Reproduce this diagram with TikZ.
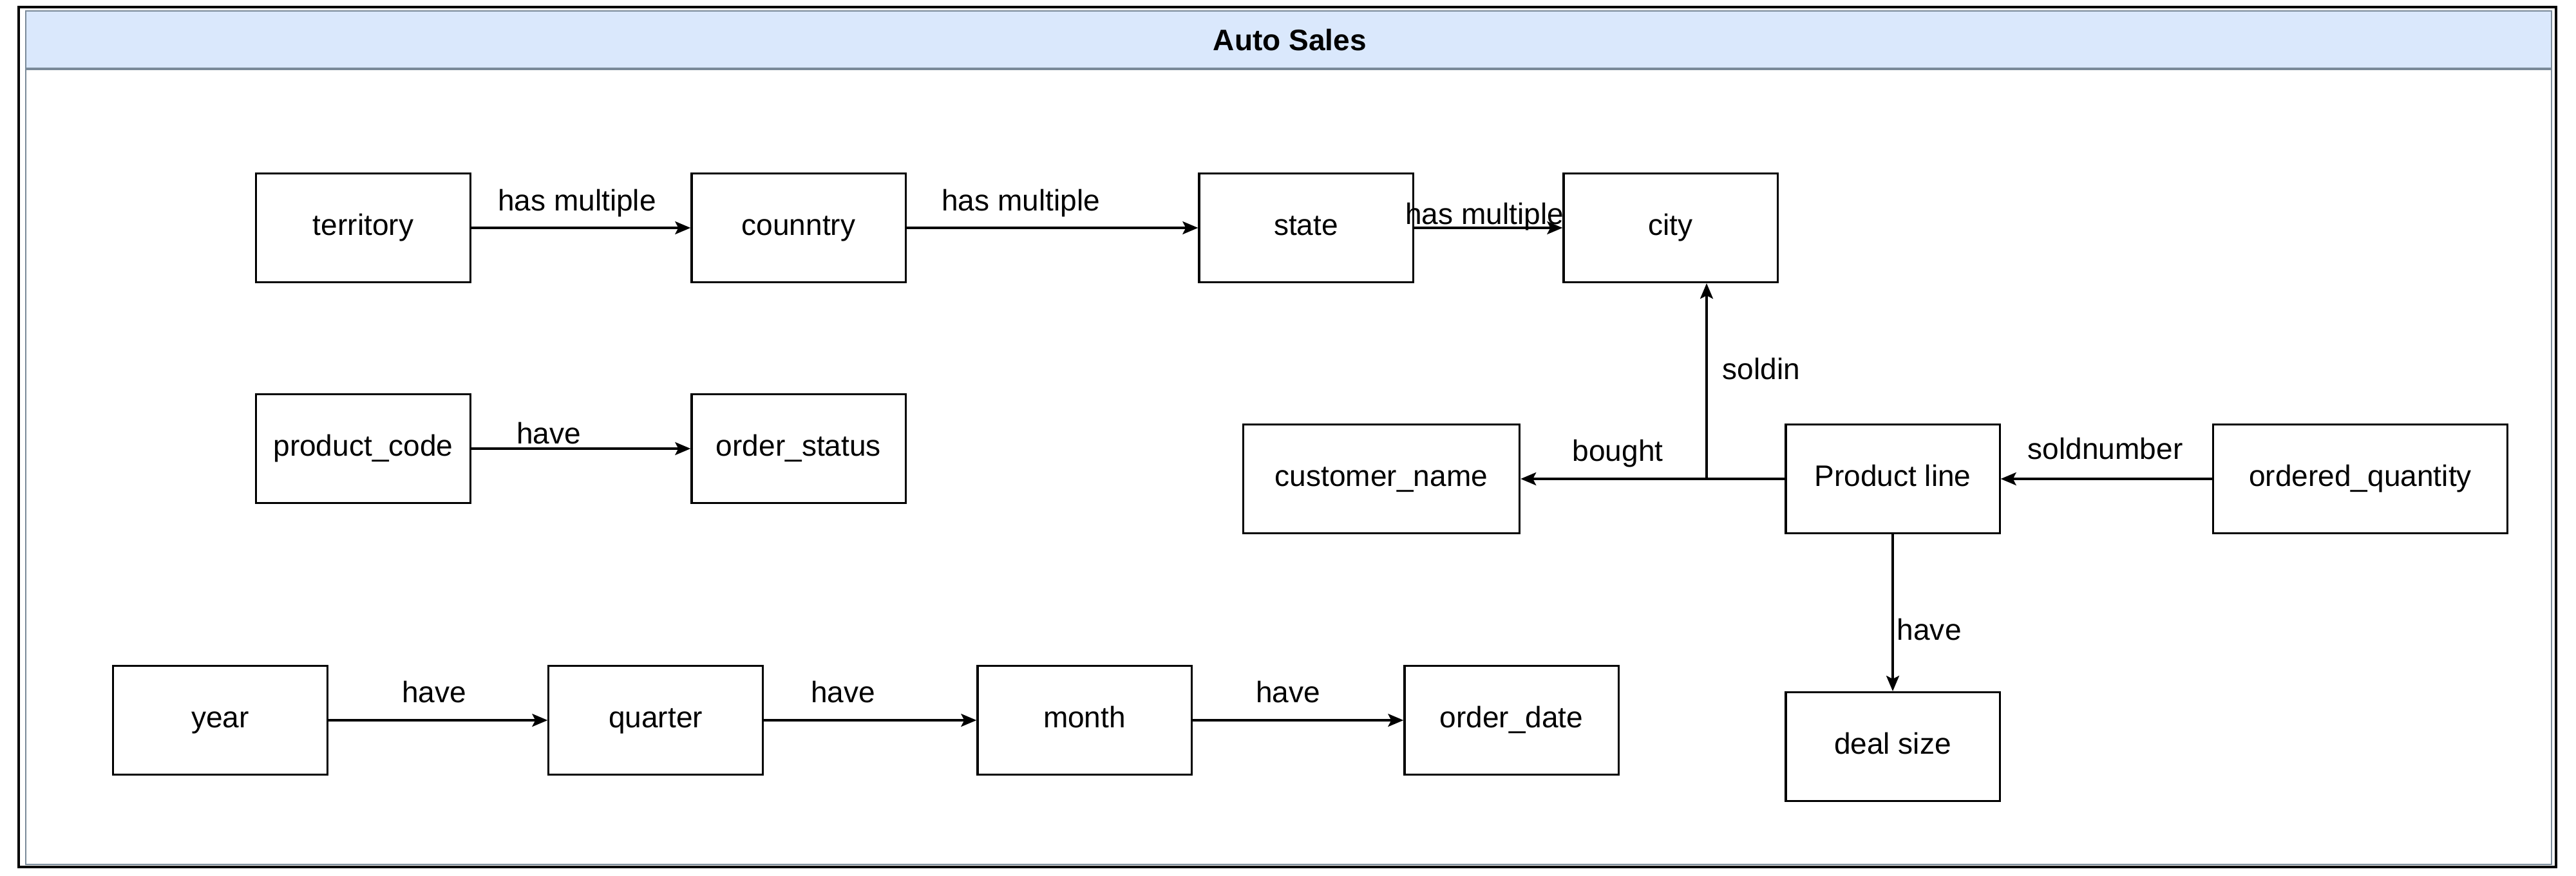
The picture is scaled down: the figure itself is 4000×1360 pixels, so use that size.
\documentclass[tikz,border=0pt]{standalone}
\usepackage{fontspec}
\setmainfont{Liberation Sans}
\usetikzlibrary{arrows.meta}
\definecolor{hdr}{HTML}{DAE8FC}
\definecolor{lanegray}{HTML}{7A8A99}
\begin{document}
\begin{tikzpicture}[x=0.01cm,y=-0.01cm,
  ent/.style={draw=black,line width=0.9pt,minimum height=1.69cm,minimum width=3.32cm,inner sep=0pt,text height=0.33cm,text depth=0.1cm,font=\fontsize{13.1}{15}\selectfont},
  arr/.style={draw=black,line width=0.9pt,-{Stealth[length=0.24cm,width=0.2cm,inset=0.05cm]}},
  lbl/.style={font=\fontsize{13.1}{15}\selectfont,inner sep=0pt,anchor=base}]
\useasboundingbox (0,0) rectangle (4000,1360);
% frames
\fill[white] (0,0) rectangle (4000,1360);
\fill[hdr] (40,17) rectangle (3962,107);
\draw[lanegray,line width=0.7pt] (40,17) rectangle (3962,1343);
\draw[lanegray,line width=1pt] (40,107) -- (3962,107);
\draw[black,line width=1.1pt] (29,11) rectangle (3969,1347);
\node[font=\bfseries\fontsize{13.1}{15}\selectfont,inner sep=0pt] (title) at (2003,62) {Auto Sales};
% row 1
\node[ent] (ter) at (564,354) {territory};
\node[ent] (cou) at (1240,354) {counntry};
\node[ent] (sta) at (2028,354) {state};
\node[ent] (cit) at (2594,354) {city};
% row 2
\node[ent] (pc) at (564,697) {product\_code};
\node[ent] (os) at (1240,697) {order\_status};
% right group
\node[ent,minimum width=4.29cm] (cn) at (2145,744) {customer\_name};
\node[ent] (pl) at (2939,744) {Product line};
\node[ent,minimum width=4.56cm] (oq) at (3665,744) {ordered\_quantity};
\node[ent] (ds) at (2939,1160) {deal size};
% bottom row
\node[ent] (yr) at (342,1119) {year};
\node[ent] (qt) at (1018,1119) {quarter};
\node[ent] (mo) at (1684,1119) {month};
\node[ent] (od) at (2347,1119) {order\_date};
% connectors
\draw[arr] (ter.east) -- (cou.west);
\draw[arr] (cou.east) -- (sta.west);
\draw[arr] (sta.east) -- (cit.west);
\draw[arr] (pc.east) -- (os.west);
\draw[arr] (pl.west) -- (cn.east);
\coordinate (j) at (2650,744);
\draw[arr] (j) -- (j |- cit.south);
\draw[arr] (oq.west) -- (pl.east);
\draw[arr] (pl.south) -- (ds.north);
\draw[arr] (yr.east) -- (qt.west);
\draw[arr] (qt.east) -- (mo.west);
\draw[arr] (mo.east) -- (od.west);
% labels
\node[lbl] (l1) at (896,327) {has multiple};
\node[lbl] (l2) at (1585,327) {has multiple};
\node[lbl] (l3) at (2305,348) {has multiple};
\node[lbl] (l4) at (852,689) {have};
\node[lbl] (l5) at (2512,716) {bought};
\node[lbl,anchor=base west] (l6) at (2674,589) {soldin};
\node[lbl] (l7) at (3269,713) {soldnumber};
\node[lbl,anchor=base west] (l8) at (2945,994) {have};
\node[lbl] (l9) at (674,1091) {have};
\node[lbl] (l10) at (1309,1091) {have};
\node[lbl] (l11) at (2000,1091) {have};
\end{tikzpicture}
\end{document}
